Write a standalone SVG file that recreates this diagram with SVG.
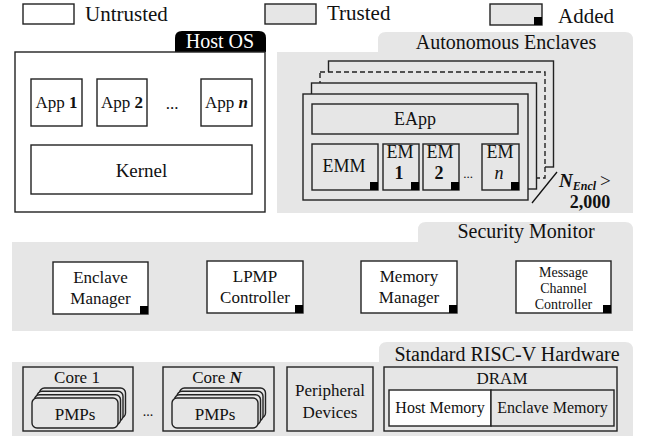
<svg xmlns="http://www.w3.org/2000/svg" xmlns:xlink="http://www.w3.org/1999/xlink" width="646" height="436" viewBox="0 0 646 436" font-family="'Liberation Serif', 'DejaVu Serif', 'Times New Roman', Times, serif">
<style>
text{font-family:'Liberation Serif','DejaVu Serif','Times New Roman',Times,serif;fill:#111;}
.box{fill:#fff;stroke:#222;stroke-width:1.4;}
.gbox{fill:#e6e6e6;stroke:#222;stroke-width:1.4;}
.panel{fill:#e6e6e6;stroke:none;}
.sq{fill:#000;}
.c{text-anchor:middle;}
.f17{font-size:17px;}
.f20{font-size:20px;}
.f21{font-size:21px;}
.b{font-weight:bold;}
.bi{font-weight:bold;font-style:italic;}
</style>
<defs>
<g id="pmps">
<rect x="7.5" y="-10" width="86" height="30" rx="5" class="gbox"/>
<rect x="5" y="-6.7" width="86" height="30" rx="5" class="gbox"/>
<rect x="2.5" y="-3.3" width="86" height="30" rx="5" class="gbox"/>
<rect x="0" y="0" width="86" height="30" rx="5" class="gbox"/>
</g>
</defs>

<!-- Legend -->
<g id="legend">
<rect x="23" y="4" width="51" height="20" class="box"/>
<text x="85" y="21" class="f21">Untrusted</text>
<rect x="265" y="4" width="51" height="20" class="gbox"/>
<text x="327" y="20" class="f21">Trusted</text>
<rect x="490" y="4" width="52" height="21" class="gbox"/>
<rect x="534" y="17" width="8" height="8" class="sq"/>
<text x="558" y="23" class="f21">Added</text>
</g>

<!-- Host OS -->
<g id="host-os">
<path d="M175,52 V38 Q175,31 182,31 H259 Q266,31 266,38 V52 Z" fill="#000"/>
<text x="220" y="48" class="f20 c" style="fill:#fff">Host OS</text>
<rect x="15" y="52" width="250" height="160" class="box"/>
</g>
<g id="app1"><rect x="31" y="79" width="51" height="47" class="box"/><text x="56.5" y="108" class="f17 c">App <tspan class="b">1</tspan></text></g>
<g id="app2"><rect x="97" y="79" width="50" height="47" class="box"/><text x="122" y="108" class="f17 c">App <tspan class="b">2</tspan></text></g>
<text x="172" y="109" class="f17 c">...</text>
<g id="appn"><rect x="201" y="79" width="51" height="47" class="box"/><text x="226.5" y="108" class="f17 c">App <tspan class="bi">n</tspan></text></g>
<g id="kernel"><rect x="31" y="145" width="221" height="49" class="box"/><text x="141.5" y="177" class="c" style="font-size:19px">Kernel</text></g>

<!-- Autonomous Enclaves -->
<g id="autonomous-enclaves">
<path d="M277,52 H378 V40 Q378,32 386,32 H625 Q633,32 633,40 V213 H277 Z" class="panel"/>
<text x="506" y="49" class="f20 c">Autonomous Enclaves</text>
<rect x="328.5" y="61" width="225" height="106" class="gbox"/>
<rect x="320" y="72" width="225" height="106" class="gbox" stroke-dasharray="5,3"/>
<rect x="311.5" y="83" width="225" height="106" class="gbox"/>
<rect x="303" y="94" width="225" height="106" class="gbox"/>
</g>
<g id="eapp"><rect x="312" y="104" width="206" height="30" class="gbox"/><text x="415" y="125" class="c" style="font-size:18px">EApp</text></g>
<g id="emm"><rect x="312" y="144" width="66" height="46" class="gbox"/><rect x="370" y="182" width="8" height="8" class="sq"/><text x="344" y="172" class="c" style="font-size:18px">EMM</text></g>
<g id="em1"><rect x="383" y="144" width="36" height="46" class="gbox"/><rect x="411" y="182" width="8" height="8" class="sq"/><text x="400" y="158" class="c" style="font-size:18px">EM</text><text x="399" y="179" class="c b" style="font-size:18px">1</text></g>
<g id="em2"><rect x="423" y="144" width="36" height="46" class="gbox"/><rect x="451" y="182" width="8" height="8" class="sq"/><text x="440" y="158" class="c" style="font-size:18px">EM</text><text x="439" y="179" class="c b" style="font-size:18px">2</text></g>
<text x="468" y="178" class="c" style="font-size:13px">...</text>
<g id="emn"><rect x="482" y="144" width="37" height="46" class="gbox"/><rect x="511" y="182" width="8" height="8" class="sq"/><text x="500" y="158" class="c" style="font-size:18px">EM</text><text x="499" y="179" class="c" style="font-size:18px;font-style:italic">n</text></g>
<g id="connectors">
<line x1="532" y1="203" x2="557" y2="172" stroke="#111" stroke-width="1.3"/>
</g>
<g id="n-encl">
<text x="559" y="187" style="font-size:19px"><tspan class="bi">N</tspan><tspan class="bi" style="font-size:12px" dy="3">Encl</tspan><tspan dy="-3" dx="4">&gt;</tspan></text>
<text x="590" y="208" class="c b" style="font-size:18px">2,000</text>
</g>

<!-- Security Monitor -->
<g id="security-monitor">
<path d="M12,242 H418 V230 Q418,222 426,222 H625 Q633,222 633,230 V331 H12 Z" class="panel"/>
<text x="526" y="238" class="f20 c">Security Monitor</text>
</g>
<g id="enclave-manager"><rect x="53" y="262" width="95" height="52" class="box"/><rect x="140" y="306" width="8" height="8" class="sq"/><text x="100.5" y="283" class="f17 c">Enclave</text><text x="100.5" y="304" class="f17 c">Manager</text></g>
<g id="lpmp-controller"><rect x="207" y="261" width="96" height="52" class="box"/><rect x="295" y="305" width="8" height="8" class="sq"/><text x="255" y="282" class="f17 c">LPMP</text><text x="255" y="303" class="f17 c">Controller</text></g>
<g id="memory-manager"><rect x="361" y="261" width="96" height="52" class="box"/><rect x="449" y="305" width="8" height="8" class="sq"/><text x="409" y="282" class="f17 c">Memory</text><text x="409" y="303" class="f17 c">Manager</text></g>
<g id="message-channel-controller"><rect x="516" y="261" width="95" height="52" class="box"/><rect x="603" y="305" width="8" height="8" class="sq"/><text x="563.5" y="277" class="c" style="font-size:14px">Message</text><text x="563.5" y="293" class="c" style="font-size:14px">Channel</text><text x="563.5" y="309" class="c" style="font-size:14px">Controller</text></g>

<!-- Standard RISC-V Hardware -->
<g id="hardware">
<path d="M12,362 H379 V350 Q379,342 387,342 H625 Q633,342 633,350 V436 H12 Z" class="panel"/>
<text x="507" y="361" class="f20 c">Standard RISC-V Hardware</text>
</g>
<g id="core1"><rect x="23" y="367" width="110" height="64" class="gbox"/><text x="77" y="383" class="f17 c">Core 1</text><use xlink:href="#pmps" x="32" y="398"/><text x="75" y="420" class="f17 c">PMPs</text></g>
<text x="148" y="416" class="c" style="font-size:14px">...</text>
<g id="coreN"><rect x="163" y="367" width="111" height="64" class="gbox"/><text x="217" y="383" class="f17 c">Core <tspan class="bi">N</tspan></text><use xlink:href="#pmps" x="172" y="398"/><text x="215" y="420" class="f17 c">PMPs</text></g>
<g id="peripheral"><rect x="287" y="367" width="86" height="64" class="gbox"/><text x="330" y="396" class="f17 c">Peripheral</text><text x="330" y="418" class="f17 c">Devices</text></g>
<g id="dram"><rect x="384" y="367" width="233" height="64" class="gbox"/><text x="502" y="384" class="f17 c">DRAM</text>
<rect x="389" y="390" width="102" height="36" class="box"/><text x="440" y="413" class="c" style="font-size:16px">Host Memory</text>
<rect x="491" y="390" width="123" height="36" class="gbox"/><text x="552.5" y="413" class="c" style="font-size:16px">Enclave Memory</text></g>
</svg>
